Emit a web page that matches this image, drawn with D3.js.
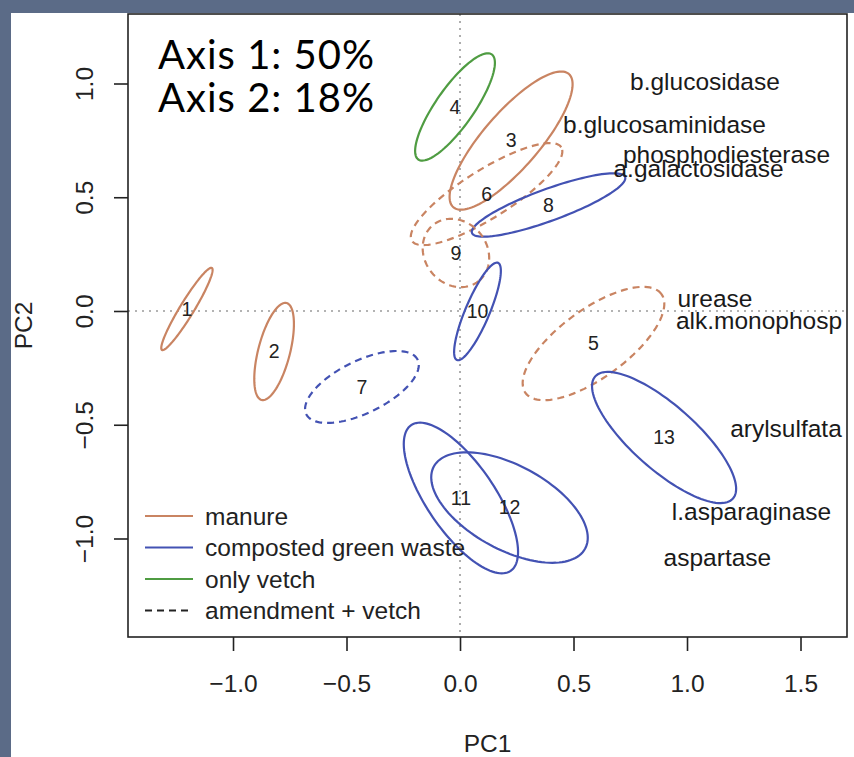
<!DOCTYPE html>
<html>
<head>
<meta charset="utf-8">
<script src="https://cdn.jsdelivr.net/npm/d3@7"></script>
<style>
  html, body { margin: 0; padding: 0; background: #5b6b87; }
  svg { display: block; }
</style>
</head>
<body>
<svg id="chart" width="854" height="757"></svg>
<script>
// ---- data --------------------------------------------------------------
const xTicks = [-1.0, -0.5, 0.0, 0.5, 1.0, 1.5];
const yTicks = [-1.0, -0.5, 0.0, 0.5, 1.0];

// confidence ellipses of the 13 treatments in PC1/PC2 space
const groupIds       = [1, 2, 3, 4, 5, 6, 7, 8, 9, 10, 11, 12, 13];
const groupCenterX   = [-1.203, -0.819, 0.225, -0.022, 0.588, 0.117, -0.432, 0.390, -0.018, 0.077, 0.004, 0.218, 0.899];
const groupCenterY   = [0.009, -0.178, 0.749, 0.897, -0.143, 0.514, -0.334, 0.466, 0.255, -0.002, -0.822, -0.864, -0.556];
const groupSemiMajor = [0.211, 0.220, 0.388, 0.282, 0.370, 0.388, 0.273, 0.359, 0.159, 0.232, 0.388, 0.379, 0.405];
const groupSemiMinor = [0.031, 0.070, 0.123, 0.084, 0.150, 0.106, 0.115, 0.070, 0.137, 0.053, 0.150, 0.185, 0.141];
const groupAngleDeg  = [58.6, 75.5, 49, 55, 36, 32, 26, 20, -50, 67, -55.6, -28.4, -41.5];
const groupAmendment = ["manure", "manure", "manure", "only vetch", "manure", "manure",
                        "composted green waste", "composted green waste", "manure",
                        "composted green waste", "composted green waste",
                        "composted green waste", "composted green waste"];
const groupWithVetch = [false, false, false, false, true, true, true, false, true, false, false, false, false];

// enzyme variable labels (as printed, the two at the right margin are cut by the frame)
const enzymeNames = ["b.glucosidase", "b.glucosaminidase", "phosphodiesterase", "a.galactosidase",
                     "urease", "alk.monophosp", "arylsulfata", "l.asparaginase", "aspartase"];
const enzymeX = [1.079, 0.901, 1.174, 1.051, 1.123, 1.317, 1.436, 1.284, 1.134];
const enzymeY = [1.009, 0.820, 0.688, 0.627, 0.055, -0.043, -0.516, -0.881, -1.083];

const legendLabels = ["manure", "composted green waste", "only vetch", "amendment + vetch"];
const varianceLabels = ["Axis 1: 50%", "Axis 2: 18%"];

// ---- layout ------------------------------------------------------------
const svg = d3.select("#chart");
const plot = { left: 128, right: 847, top: 14, bottom: 637 };
const font = "'Liberation Sans', Arial, Helvetica, sans-serif";

const x = d3.scaleLinear().domain([-1.4626, 1.7048]).range([plot.left, plot.right]);
const y = d3.scaleLinear().domain([-1.433, 1.3055]).range([plot.bottom, plot.top]);

const colour = d3.scaleOrdinal()
  .domain(["manure", "composted green waste", "only vetch"])
  .range(["#c98462", "#4352b3", "#4f9c42"]);

// white panel over the slate background
svg.append("rect").attr("x", 11).attr("y", 13).attr("width", 843).attr("height", 744).attr("fill", "#ffffff");

// zero reference lines
const zero = svg.append("g").attr("stroke", "#9a9a9a").attr("stroke-width", 1.6).attr("stroke-dasharray", "2,5");
zero.append("line").attr("x1", x(0)).attr("x2", x(0)).attr("y1", plot.top).attr("y2", plot.bottom);
zero.append("line").attr("x1", plot.left).attr("x2", plot.right).attr("y1", y(0)).attr("y2", y(0));

// ellipses
const line = d3.line().x(d => x(d[0])).y(d => y(d[1])).curve(d3.curveLinearClosed);
const steps = d3.range(0, 120).map(i => i / 120 * 2 * Math.PI);
groupIds.forEach((id, i) => {
  const th = groupAngleDeg[i] * Math.PI / 180;
  const a = groupSemiMajor[i], b = groupSemiMinor[i];
  const pts = steps.map(t => [
    groupCenterX[i] + a * Math.cos(t) * Math.cos(th) - b * Math.sin(t) * Math.sin(th),
    groupCenterY[i] + a * Math.cos(t) * Math.sin(th) + b * Math.sin(t) * Math.cos(th)
  ]);
  svg.append("path")
    .attr("d", line(pts))
    .attr("fill", "none")
    .attr("stroke", colour(groupAmendment[i]))
    .attr("stroke-width", 2.2)
    .attr("stroke-dasharray", groupWithVetch[i] ? "7,5" : null);
});

// treatment numbers
svg.append("g").selectAll("text").data(groupIds).join("text")
  .attr("x", (d, i) => x(groupCenterX[i]))
  .attr("y", (d, i) => y(groupCenterY[i]))
  .attr("dy", "0.35em")
  .attr("text-anchor", "middle")
  .attr("font-family", font).attr("font-size", 19.5).attr("fill", "#222")
  .text(d => d);

// enzyme labels
svg.append("g")
  .selectAll("text").data(enzymeNames).join("text")
  .attr("x", (d, i) => x(enzymeX[i]))
  .attr("y", (d, i) => y(enzymeY[i]))
  .attr("dy", "0.35em")
  .attr("text-anchor", "middle")
  .attr("font-family", font).attr("font-size", 24.5).attr("fill", "#1a1a1a")
  .text(d => d);

// axes
const xAxis = svg.append("g")
  .attr("transform", `translate(0,${plot.bottom})`)
  .call(d3.axisBottom(x).tickValues(xTicks).tickSize(14).tickPadding(24).tickFormat(d3.format(".1f")));
const yAxis = svg.append("g")
  .attr("transform", `translate(${plot.left},0)`)
  .call(d3.axisLeft(y).tickValues(yTicks).tickSize(14).tickFormat(d3.format(".1f")));
[xAxis, yAxis].forEach(g => {
  g.select(".domain").remove();
  g.selectAll(".tick line").attr("stroke", "#222").attr("stroke-width", 1.6);
  g.selectAll(".tick text").attr("font-family", font).attr("font-size", 24.5).attr("fill", "#222");
});
yAxis.selectAll(".tick text")
  .attr("x", null).attr("dy", null)
  .attr("text-anchor", "middle")
  .attr("transform", "translate(-35,0) rotate(-90)");

// frame
svg.append("rect")
  .attr("x", plot.left).attr("y", plot.top)
  .attr("width", plot.right - plot.left).attr("height", plot.bottom - plot.top)
  .attr("fill", "none").attr("stroke", "#222").attr("stroke-width", 1.6);

// axis titles
svg.append("text").attr("x", (plot.left + plot.right) / 2).attr("y", 752)
  .attr("text-anchor", "middle").attr("font-family", font).attr("font-size", 24.5).attr("fill", "#222")
  .text("PC1");
svg.append("text").attr("transform", `translate(32,${(plot.top + plot.bottom) / 2}) rotate(-90)`)
  .attr("text-anchor", "middle").attr("font-family", font).attr("font-size", 24.5).attr("fill", "#222")
  .text("PC2");

// legend
const legendKeys = legendLabels.map((d, i) => ({
  label: d,
  stroke: i < 3 ? colour(d) : "#222",
  dash: i === 3 ? "7,5" : null
}));
const legend = svg.append("g").attr("transform", "translate(145,516)");
const rows = legend.selectAll("g").data(legendKeys).join("g")
  .attr("transform", (d, i) => `translate(0,${i * 31.5})`);
rows.append("line").attr("x1", 0).attr("x2", 48)
  .attr("stroke", d => d.stroke).attr("stroke-width", 2).attr("stroke-dasharray", d => d.dash);
rows.append("text").attr("x", 60).attr("dy", "0.35em")
  .attr("font-family", font).attr("font-size", 24.5).attr("fill", "#222")
  .text(d => d.label);

// explained variance annotation
svg.append("g").selectAll("text").data(varianceLabels).join("text")
  .attr("x", 158).attr("y", (d, i) => 69 + i * 43)
  .attr("font-family", "Lato, 'Open Sans', sans-serif").attr("font-size", 40)
  .attr("letter-spacing", 1).attr("fill", "#000")
  .text(d => d);
</script>
</body>
</html>
